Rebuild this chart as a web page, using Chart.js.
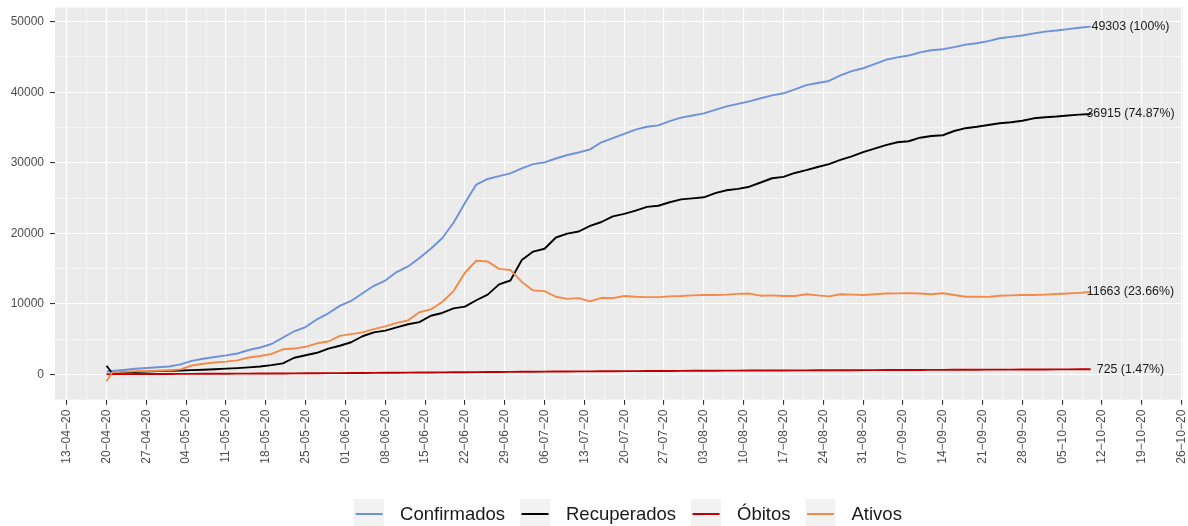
<!DOCTYPE html>
<html>
<head>
<meta charset="utf-8">
<script src="https://cdn.jsdelivr.net/npm/chart.js@4.4.0/dist/chart.umd.min.js"></script>
<style>
  html, body { margin: 0; padding: 0; background: #ffffff; }
  #wrap { width: 1188px; height: 526px; }
</style>
</head>
<body>
<div id="wrap"><canvas id="chCovid"></canvas></div>
<script>
/* covid cases line chart, ggplot look */

// x = days since 13-04-20
var days = [7, 8, 10, 12, 14, 16, 18, 20, 22, 24, 26, 28, 30, 32, 34, 36, 38, 40, 42, 44,
  46, 48, 50, 52, 54, 56, 58, 60, 62, 64, 66, 68, 70, 72, 74, 76, 78, 80, 82, 84,
  86, 88, 90, 92, 94, 96, 98, 100, 102, 104, 106, 108, 110, 112, 114, 116, 118, 120, 122, 124,
  126, 128, 130, 132, 134, 136, 138, 140, 142, 144, 146, 148, 150, 152, 154, 156, 158, 160, 162, 164,
  166, 168, 170, 172, 174, 176, 178, 180];

var confirmados = [400, 470, 620, 780, 900, 1000, 1100, 1400, 1900, 2200, 2450, 2680, 2950, 3450, 3800, 4300, 5200, 6100, 6700, 7800,
  8650, 9700, 10400, 11500, 12550, 13300, 14500, 15300, 16500, 17800, 19300, 21500, 24300, 26900, 27700, 28100, 28500, 29200, 29800, 30050,
  30600, 31100, 31450, 31900, 32900, 33500, 34100, 34700, 35100, 35300, 35900, 36400, 36700, 37000, 37500, 38000, 38350, 38700, 39150, 39550,
  39850, 40400, 41000, 41300, 41600, 42400, 43000, 43400, 44000, 44600, 44950, 45200, 45650, 45950, 46100, 46400, 46750, 46950, 47250, 47650,
  47850, 48050, 48350, 48600, 48750, 48950, 49150, 49303];

var recuperados = [1220, 150, 250, 330, 400, 460, 500, 540, 600, 650, 720, 800, 880, 980, 1100, 1300, 1550, 2350, 2700, 3050,
  3650, 4050, 4550, 5400, 5950, 6200, 6660, 7100, 7400, 8300, 8700, 9350, 9600, 10500, 11300, 12750, 13300, 16200, 17400, 17800,
  19400, 19950, 20250, 21050, 21600, 22400, 22750, 23200, 23750, 23900, 24400, 24800, 24950, 25100, 25700, 26100, 26300, 26600, 27200, 27800,
  28000, 28550, 28950, 29400, 29800, 30400, 30900, 31500, 32000, 32500, 32900, 33050, 33550, 33800, 33900, 34500, 34900, 35100, 35350, 35600,
  35750, 35950, 36300, 36450, 36550, 36700, 36820, 36915];

var obitos = [20, 22, 28, 35, 40, 46, 52, 60, 66, 72, 78, 85, 92, 100, 108, 116, 124, 132, 142, 152,
  162, 172, 182, 194, 206, 218, 230, 242, 254, 266, 278, 290, 302, 314, 326, 337, 348, 359, 370, 380,
  390, 400, 410, 419, 428, 437, 446, 455, 463, 471, 479, 487, 495, 503, 510, 517, 524, 531, 538, 544,
  550, 556, 562, 568, 574, 580, 586, 592, 598, 604, 610, 616, 622, 628, 634, 640, 646, 652, 658, 664,
  670, 676, 682, 689, 696, 704, 714, 725];

var ativos = [-1000, 300, 340, 430, 470, 510, 560, 700, 1250, 1500, 1680, 1800, 1980, 2380, 2600, 2900, 3550, 3650, 3900, 4400,
  4650, 5450, 5700, 5950, 6400, 6800, 7300, 7650, 8800, 9200, 10250, 11800, 14400, 16100, 16000, 14950, 14800, 13100, 11900, 11800,
  11000, 10700, 10800, 10350, 10850, 10800, 11100, 11000, 10950, 10950, 11050, 11100, 11200, 11250, 11250, 11300, 11400, 11450, 11150, 11200,
  11100, 11100, 11350, 11200, 11050, 11350, 11300, 11250, 11350, 11450, 11480, 11500, 11450, 11350, 11500, 11250, 11000, 11000, 10980, 11150,
  11200, 11250, 11250, 11300, 11380, 11450, 11550, 11663];

var seriesNames = ['Confirmados', 'Recuperados', 'Óbitos', 'Ativos'];
var seriesValues = [confirmados, recuperados, obitos, ativos];
var endLabels = ['49303 (100%)', '36915 (74.87%)', '725 (1.47%)', '11663 (23.66%)'];

// y grid: labelled every 10000, minor lines in between
var yTicks = [0, 5000, 10000, 15000, 20000, 25000, 30000, 35000, 40000, 45000, 50000];

// colors
var lineColors = ['#6E92DA', '#000000', '#C00000', '#F28A48'];

var baseFont = '"Liberation Sans", Arial, Helvetica, sans-serif';

function pts(vals) {
  var out = [];
  for (var i = 0; i < days.length; i++) out.push({x: days[i], y: vals[i]});
  return out;
}

// day offset -> dd−mm−yy
function dayLabel(v) {
  var d = new Date(Date.UTC(2020, 3, 13) + v * 86400000);
  var dd = ('0' + d.getUTCDate()).slice(-2);
  var mm = ('0' + (d.getUTCMonth() + 1)).slice(-2);
  var yy = String(d.getUTCFullYear()).slice(-2);
  return dd + '\u2212' + mm + '\u2212' + yy;
}

var datasets = [];
for (var i = 0; i < seriesNames.length; i++) {
  datasets.push({
    label: seriesNames[i],
    data: pts(seriesValues[i]),
    borderColor: lineColors[i],
    backgroundColor: lineColors[i],
    borderWidth: 1.9,
    pointRadius: 0,
    tension: 0,
    borderJoinStyle: 'round',
    order: seriesNames.length - i
  });
}

// grey panel behind the grid
var panelBg = {
  id: 'panelBg',
  beforeDraw: function(chart) {
    var a = chart.chartArea, ctx = chart.ctx;
    ctx.save();
    ctx.fillStyle = '#EBEBEB';
    ctx.fillRect(a.left, a.top, a.right - a.left, a.bottom - a.top);
    ctx.restore();
  }
};

// value labels at the end of each line
var endText = {
  id: 'endText',
  afterDatasetsDraw: function(chart) {
    var ctx = chart.ctx, xs = chart.scales.x;
    ctx.save();
    ctx.font = '12.4px ' + baseFont;
    ctx.fillStyle = '#1A1A1A';
    ctx.textAlign = 'center';
    ctx.textBaseline = 'middle';
    chart.data.datasets.forEach(function(ds, k) {
      var meta = chart.getDatasetMeta(k);
      var last = meta.data[meta.data.length - 1];
      var lastDay = ds.data[ds.data.length - 1].x;
      ctx.fillText(endLabels[k], xs.getPixelForValue(lastDay + 7), last.y);
    });
    ctx.restore();
  }
};

// ggplot style legend at the bottom
var bottomLegend = {
  id: 'bottomLegend',
  afterDraw: function(chart) {
    var ctx = chart.ctx;
    var keyW = 30, keyH = 30, gapText = 16, gapItem = 15, cy = 514, cx = 628;
    ctx.save();
    ctx.font = '18.5px ' + baseFont;
    var widths = seriesNames.map(function(n) { return ctx.measureText(n).width; });
    var total = 0;
    widths.forEach(function(w, k) { total += keyW + gapText + w + (k < widths.length - 1 ? gapItem : 0); });
    var x = cx - total / 2;
    ctx.textBaseline = 'middle';
    ctx.textAlign = 'left';
    seriesNames.forEach(function(n, k) {
      ctx.fillStyle = '#F2F2F2';
      ctx.fillRect(x, cy - keyH / 2, keyW, keyH);
      ctx.strokeStyle = lineColors[k];
      ctx.lineWidth = 2;
      ctx.beginPath();
      ctx.moveTo(x + 1.5, cy);
      ctx.lineTo(x + keyW - 1.5, cy);
      ctx.stroke();
      ctx.fillStyle = '#1A1A1A';
      ctx.fillText(n, x + keyW + gapText, cy + 1);
      x += keyW + gapText + widths[k] + gapItem;
    });
    ctx.restore();
  }
};

new Chart(document.getElementById('chCovid'), {
  type: 'line',
  data: { datasets: datasets },
  options: {
    responsive: true,
    maintainAspectRatio: false,
    animation: false,
    layout: { padding: { top: 7.6, right: 5, bottom: 0, left: 0 } },
    plugins: { legend: { display: false }, tooltip: { enabled: false } },
    scales: {
      x: {
        type: 'linear',
        min: -2.057,
        max: 196.23,
        border: { display: false },
        grid: {
          color: '#FFFFFF',
          lineWidth: function(c) { return c.tick && c.tick.value % 7 === 0 ? 1.1 : 0.5; },
          tickColor: function(c) { return c.tick && c.tick.value % 7 === 0 ? '#333333' : 'rgba(0,0,0,0)'; },
          tickLength: 5,
          tickWidth: 1.1
        },
        ticks: {
          stepSize: 3.5,
          includeBounds: false,
          autoSkip: false,
          maxRotation: 90,
          minRotation: 90,
          padding: 5,
          color: '#4D4D4D',
          font: { family: baseFont, size: 12 },
          callback: function(v) { return v % 7 === 0 ? dayLabel(v) : ''; }
        },
        afterFit: function(s) { s.height = 526 - 399.7; s.paddingLeft = 0; s.paddingRight = 0; }
      },
      y: {
        min: -3600,
        max: 52000,
        border: { display: false },
        grid: {
          color: '#FFFFFF',
          lineWidth: function(c) { return c.tick && c.tick.value % 10000 === 0 ? 1.1 : 0.5; },
          tickColor: function(c) { return c.tick && c.tick.value % 10000 === 0 ? '#333333' : 'rgba(0,0,0,0)'; },
          tickLength: 5,
          tickWidth: 1.1
        },
        ticks: {
          autoSkip: false,
          padding: 6,
          color: '#4D4D4D',
          font: { family: baseFont, size: 12 },
          callback: function(v) { return v % 10000 === 0 ? String(v) : ''; }
        },
        afterBuildTicks: function(s) { s.ticks = yTicks.map(function(v) { return {value: v}; }); },
        afterFit: function(s) { s.width = 55; s.paddingTop = 0; s.paddingBottom = 0; }
      }
    }
  },
  plugins: [panelBg, endText, bottomLegend]
});
</script>
</body>
</html>
